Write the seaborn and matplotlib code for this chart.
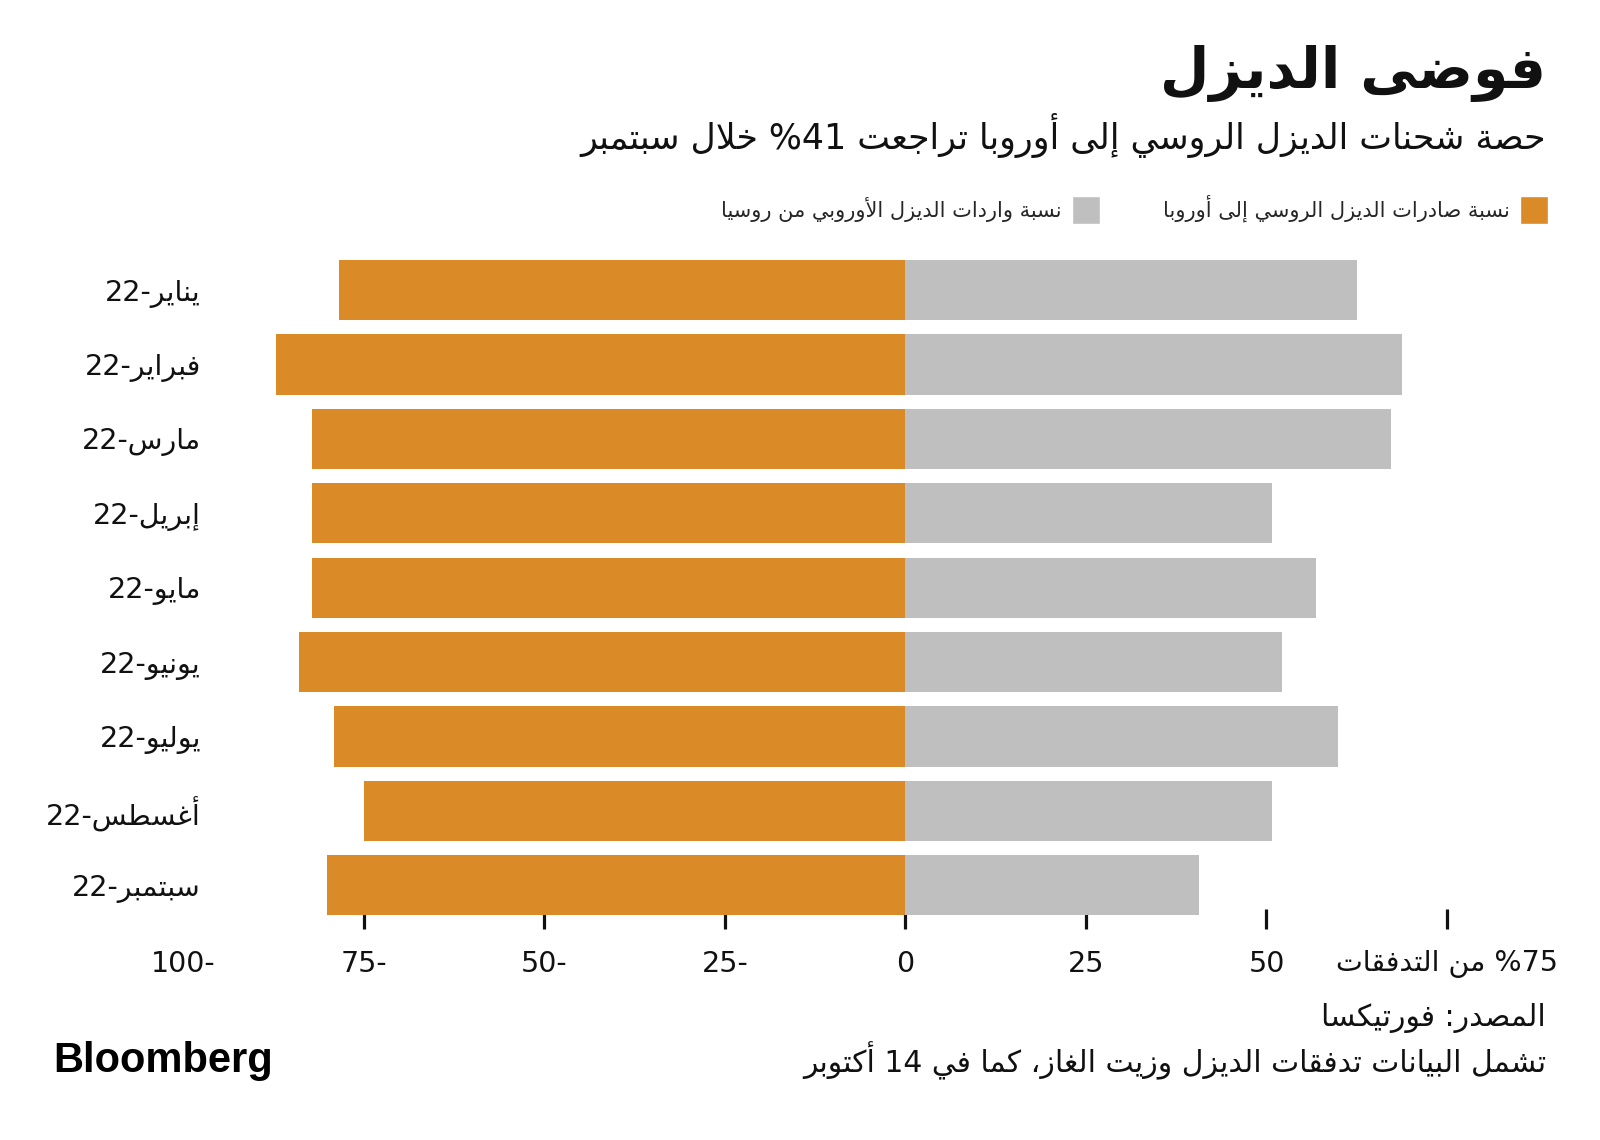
import re
import numpy as np
import pandas as pd
import matplotlib
matplotlib.use("Agg")
import matplotlib.pyplot as plt
import seaborn as sns
from matplotlib.patches import Patch

# ---------------- data ----------------
months = ["يناير-22", "فبراير-22", "مارس-22", "إبريل-22", "مايو-22",
          "يونيو-22", "يوليو-22", "أغسطس-22", "سبتمبر-22"]
exports_to_europe = [78.4, 87.1, 82.2, 82.2, 82.2, 84.0, 79.1, 75.0, 80.1]
europe_imports_from_russia = [62.6, 68.8, 67.2, 50.8, 56.9, 52.1, 59.9, 50.8, 40.7]
x_ticks = [-100, -75, -50, -25, 0, 25, 50, 75]
x_tick_labels = ["-100", "-75", "-50", "-25", "0", "25", "50", "75% من التدفقات"]

title = "فوضى الديزل"
subtitle = "حصة شحنات الديزل الروسي إلى أوروبا تراجعت 41% خلال سبتمبر"
legend_exports = "نسبة صادرات الديزل الروسي إلى أوروبا"
legend_imports = "نسبة واردات الديزل الأوروبي من روسيا"
source = "المصدر: فورتيكسا"
note = "تشمل البيانات تدفقات الديزل وزيت الغاز، كما في 14 أكتوبر"

ORANGE = "#DA8A26"
GRAY = "#BFBFBF"

# ---------------- minimal Arabic shaping + visual ordering ----------------
_R = {'آ': 0xFE81, 'أ': 0xFE83, 'ؤ': 0xFE85, 'إ': 0xFE87, 'ا': 0xFE8D, 'ة': 0xFE93,
      'د': 0xFEA9, 'ذ': 0xFEAB, 'ر': 0xFEAD, 'ز': 0xFEAF, 'و': 0xFEED, 'ى': 0xFEEF}
_D = {'ئ': 0xFE89, 'ب': 0xFE8F, 'ت': 0xFE95, 'ث': 0xFE99, 'ج': 0xFE9D, 'ح': 0xFEA1,
      'خ': 0xFEA5, 'س': 0xFEB1, 'ش': 0xFEB5, 'ص': 0xFEB9, 'ض': 0xFEBD, 'ط': 0xFEC1,
      'ظ': 0xFEC5, 'ع': 0xFEC9, 'غ': 0xFECD, 'ف': 0xFED1, 'ق': 0xFED5, 'ك': 0xFED9,
      'ل': 0xFEDD, 'م': 0xFEE1, 'ن': 0xFEE5, 'ه': 0xFEE9, 'ي': 0xFEF1}
_U = {'ء': 0xFE80}
_LA = {'آ': 0xFEF5, 'أ': 0xFEF7, 'إ': 0xFEF9, 'ا': 0xFEFB}


def shape(s):
    units = []
    i = 0
    while i < len(s):
        c = s[i]
        if c == 'ل' and i + 1 < len(s) and s[i + 1] in _LA:
            units.append((_LA[s[i + 1]], 'R'))
            i += 2
            continue
        if c in _D:
            units.append((_D[c], 'D'))
        elif c in _R:
            units.append((_R[c], 'R'))
        elif c in _U:
            units.append((_U[c], 'U'))
        else:
            units.append((c, None))
        i += 1
    out = []
    for k, (b, t) in enumerate(units):
        if t is None:
            out.append(b)
            continue
        if t == 'U':
            out.append(chr(b))
            continue
        prev = units[k - 1][1] if k > 0 else None
        nxt = units[k + 1][1] if k + 1 < len(units) else None
        jp = prev == 'D'
        jn = t == 'D' and nxt in ('D', 'R')
        if t == 'R':
            out.append(chr(b + (1 if jp else 0)))
        else:
            off = 3 if (jp and jn) else 1 if jp else 2 if jn else 0
            out.append(chr(b + off))
    return ''.join(out)


def vis(s):
    r = shape(s)[::-1]
    return re.sub(r'[0-9]+', lambda m: m.group(0)[::-1], r)


# ---------------- plot ----------------
sns.set_style("white")
plt.rcParams['font.family'] = ['DejaVu Sans']

fig = plt.figure(figsize=(16, 11.4), dpi=100)
fig.patch.set_facecolor("white")
ax = fig.add_axes([0.1144, 0.1941, 0.79, 0.5841])
ax.set_axisbelow(True)

df = pd.DataFrame({
    "month": [vis(m) for m in months],
    "exports": [-v for v in exports_to_europe],
    "imports": europe_imports_from_russia,
})

sns.barplot(data=df, y="month", x="exports", color=ORANGE, width=0.81,
            saturation=1, errorbar=None, orient="h", ax=ax, linewidth=0)
sns.barplot(data=df, y="month", x="imports", color=GRAY, width=0.81,
            saturation=1, errorbar=None, orient="h", ax=ax, linewidth=0)

ax.set_axisbelow(True)
ax.set_xlim(-100, 75)
ax.set_ylim(8.45, -0.5)
ax.set_xlabel("")
ax.set_ylabel("")
ax.set_xticks(x_ticks)
ax.set_xticklabels([vis(l) for l in x_tick_labels], fontsize=20.5, color="#111111")
for s in ax.spines.values():
    s.set_visible(False)
ax.tick_params(axis="x", bottom=True, length=14, width=2.3, color="#111111",
               pad=15.5, direction="inout")
ax.tick_params(axis="y", left=False, length=0, pad=-13, labelsize=20.5,
               labelcolor="#111111")
ax.xaxis.get_major_ticks()[0].tick1line.set_visible(False)
ax.grid(False)

# titles
fig.text(1546 / 1600, 1 - 74 / 1140, vis(title), ha="right", va="center",
         fontsize=41, fontweight="bold", color="#111111")
fig.text(1546 / 1600, 1 - 136 / 1140, vis(subtitle), ha="right", va="center",
         fontsize=25, color="#111111")

# legend (RTL: swatch on the right of its text)
handles = [Patch(facecolor=GRAY, label=vis(legend_imports)),
           Patch(facecolor=ORANGE, label=vis(legend_exports))]
fig.legend(handles=handles, ncol=2, markerfirst=False, loc="upper right",
           bbox_to_anchor=(1548 / 1600, 1 - 195 / 1140), frameon=False,
           fontsize=15, handlelength=1.35, handleheight=1.7, columnspacing=3.0,
           handletextpad=0.5, borderaxespad=0, borderpad=0)

# footer
fig.text(1546 / 1600, 1 - 1018 / 1140, vis(source), ha="right", va="center",
         fontsize=21.5, color="#111111")
fig.text(1546 / 1600, 1 - 1061 / 1140, vis(note), ha="right", va="center",
         fontsize=21.5, color="#111111")
fig.text(53 / 1600, 1 - 1061 / 1140, "Bloomberg", ha="left", va="center",
         fontsize=30, fontweight="bold", color="#000000",
         family=["Liberation Sans Narrow", "Liberation Sans", "DejaVu Sans"])

fig.savefig("out.png", dpi=100, facecolor="white")
